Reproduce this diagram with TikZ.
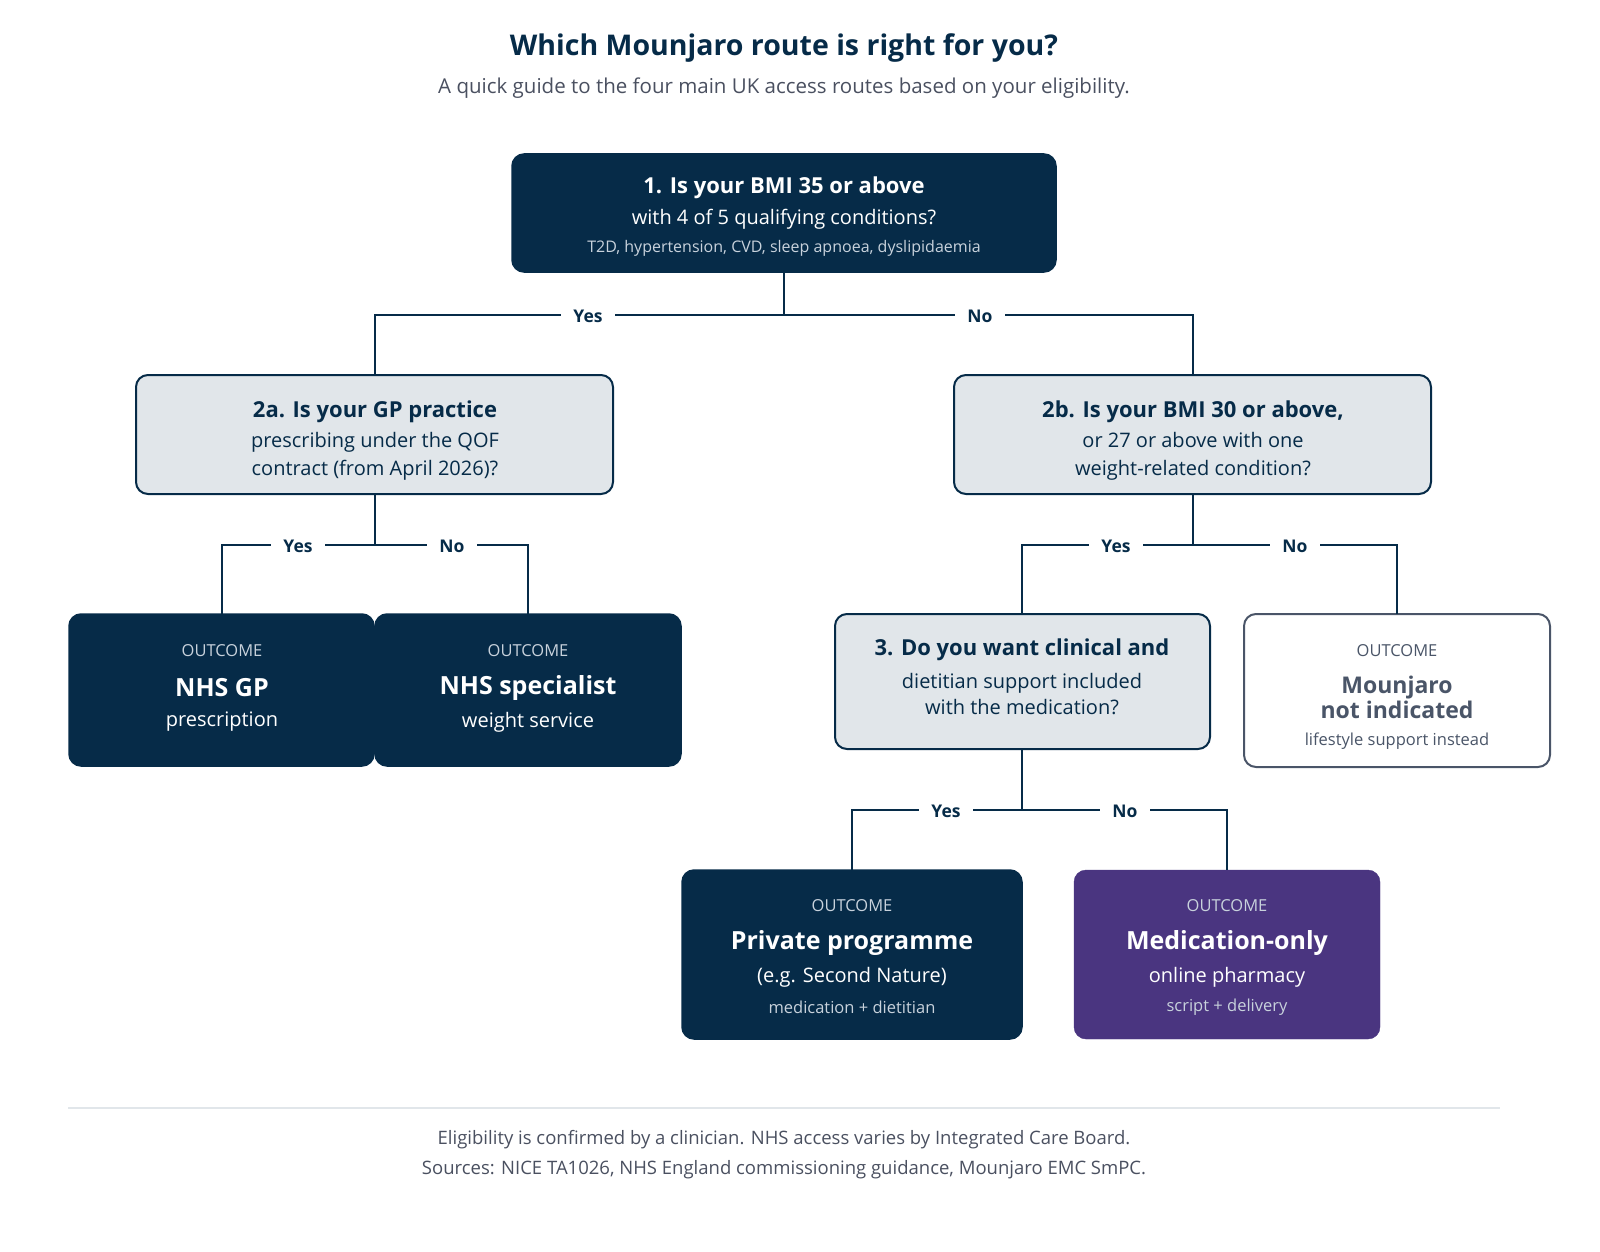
\documentclass[tikz,border=0pt]{standalone}
\usepackage{fontspec}
\setmainfont{Open Sans}
\begin{document}
\begin{tikzpicture}[x=1pt,y=-1pt,
  navy/.style={fill=nv,draw=nv,rounded corners=12pt,line width=1.5pt},
  light/.style={fill=lg,draw=nv,rounded corners=12pt,line width=2pt},
  plain/.style={fill=white,draw=gb,rounded corners=12pt,line width=2pt},
  purp/.style={fill=pp,draw=pp,rounded corners=12pt},
  conn/.style={draw=nv,line width=2pt},
  lab/.style={fill=white,inner xsep=12pt,text=nv,font=\fontsize{17.5}{20}\selectfont\bfseries},
  t/.style={align=center,inner sep=0pt}]
\definecolor{nv}{HTML}{062B48}
\definecolor{lg}{HTML}{E1E6EA}
\definecolor{gb}{HTML}{4A5568}
\definecolor{pp}{HTML}{4A3580}
\definecolor{tx}{HTML}{4A5060}
\definecolor{sub}{HTML}{C8D2DC}
\useasboundingbox (0,0) rectangle (1600,1252);
\node[t,text=nv,font=\fontsize{28.5}{30}\selectfont\bfseries] (title) at (784,48) {Which Mounjaro route is right for you?};
\node[t,text=tx,font=\fontsize{20.5}{22}\selectfont] (subt) at (784,88) {A quick guide to the four main UK access routes based on your eligibility.};
% boxes
\draw[navy] (512,154) rectangle (1056,272);
\draw[light] (136,375) rectangle (613,494);
\draw[light] (954,375) rectangle (1431,494);
\draw[navy] (69,614) rectangle (374,766);
\draw[navy] (375,614) rectangle (681,766);
\draw[light] (835,614) rectangle (1210,749);
\draw[plain] (1244,614) rectangle (1550,767);
\draw[navy] (682,870) rectangle (1022,1039);
\draw[purp] (1074,870) rectangle (1380,1039);
% coordinates
\coordinate (q1b) at (784,272); \coordinate (q1m) at (784,315);
\coordinate (a2t) at (375,375); \coordinate (b2t) at (1193,375);
\coordinate (a2b) at (375,494); \coordinate (a2m) at (375,545);
\coordinate (gpt) at (222,614); \coordinate (spt) at (528,614);
\coordinate (b2b) at (1193,494); \coordinate (b2m) at (1193,545);
\coordinate (q3t) at (1022,614); \coordinate (nit) at (1397,614);
\coordinate (q3b) at (1022,749); \coordinate (q3m) at (1022,810);
\coordinate (prt) at (852,870); \coordinate (mot) at (1227,870);
\draw[conn] (q1b)--(q1m); \draw[conn] (a2t)|-(q1m)-|(b2t);
\draw[conn] (a2b)--(a2m); \draw[conn] (gpt)|-(a2m)-|(spt);
\draw[conn] (b2b)--(b2m); \draw[conn] (q3t)|-(b2m)-|(nit);
\draw[conn] (q3b)--(q3m); \draw[conn] (prt)|-(q3m)-|(mot);
\node[lab] (l1) at (588,316) {Yes}; \node[lab] (l2) at (980,316) {No};
\node[lab] (l3) at (298,546) {Yes}; \node[lab] (l4) at (452,546) {No};
\node[lab] (l5) at (1116,546) {Yes}; \node[lab] (l6) at (1295,546) {No};
\node[lab] (l7) at (946,811) {Yes}; \node[lab] (l8) at (1125,811) {No};
% texts
\node[t,text=white,font=\fontsize{22}{24}\selectfont\bfseries] (q1a) at (784,188) {1. Is your BMI 35 or above};
\node[t,text=white,font=\fontsize{20}{22}\selectfont] (q1c) at (784,219) {with 4 of 5 qualifying conditions?};
\node[t,text=sub,font=\fontsize{16}{18}\selectfont] (q1d) at (784,248) {T2D, hypertension, CVD, sleep apnoea, dyslipidaemia};
\node[t,text=nv,font=\fontsize{22}{24}\selectfont\bfseries] (a2a) at (375,412) {2a. Is your GP practice};
\node[t,text=nv,font=\fontsize{20}{28}\selectfont] (a2c) at (375,456) {prescribing under the QOF\\contract (from April 2026)?};
\node[t,text=nv,font=\fontsize{22}{24}\selectfont\bfseries] (b2a) at (1193,412) {2b. Is your BMI 30 or above,};
\node[t,text=nv,font=\fontsize{20}{28}\selectfont] (b2c) at (1193,456) {or 27 or above with one\\weight-related condition?};
\node[t,text=nv,font=\fontsize{22}{24}\selectfont\bfseries] (q3a) at (1022,650) {3. Do you want clinical and};
\node[t,text=nv,font=\fontsize{20}{26}\selectfont] (q3c) at (1022,694) {dietitian support included\\with the medication?};
\foreach \x/\y/\c/\n in {222/651/sub/o1,528/651/sub/o2,1397/651/gb/o3,852/906/sub/o4,1227/906/sub/o5}
  \node[t,text=\c,font=\fontsize{16.5}{18}\selectfont] (\n) at (\x,\y) {OUTCOME};
\node[t,text=white,font=\fontsize{25}{26}\selectfont\bfseries] (gpa) at (222,688) {NHS GP};
\node[t,text=white,font=\fontsize{20}{22}\selectfont] (gpb) at (222,722) {prescription};
\node[t,text=white,font=\fontsize{25}{26}\selectfont\bfseries] (spa) at (528,688) {NHS specialist};
\node[t,text=white,font=\fontsize{20}{22}\selectfont] (spb) at (528,722) {weight service};
\node[t,text=gb,font=\fontsize{23}{25}\selectfont\bfseries] (nia) at (1397,697) {Mounjaro\\not indicated};
\node[t,text=gb,font=\fontsize{16.5}{18}\selectfont] (nib) at (1397,741) {lifestyle support instead};
\node[t,text=white,font=\fontsize{25}{26}\selectfont\bfseries] (pra) at (852,943) {Private programme};
\node[t,text=white,font=\fontsize{20}{22}\selectfont] (prb) at (852,977) {(e.g. Second Nature)};
\node[t,text=sub,font=\fontsize{16.5}{18}\selectfont] (prc) at (852,1007) {medication + dietitian};
\node[t,text=white,font=\fontsize{25}{26}\selectfont\bfseries] (moa) at (1227,943) {Medication-only};
\node[t,text=white,font=\fontsize{20}{22}\selectfont] (mob) at (1227,977) {online pharmacy};
\node[t,text=sub,font=\fontsize{16.5}{18}\selectfont] (moc) at (1227,1007) {script + delivery};
\draw[draw=lg,line width=1.2pt] (68,1108)--(1500,1108);
\node[t,text=tx,font=\fontsize{18.5}{20}\selectfont] (f1) at (784,1140) {Eligibility is confirmed by a clinician. NHS access varies by Integrated Care Board.};
\node[t,text=tx,font=\fontsize{18.5}{20}\selectfont] (f2) at (784,1170) {Sources: NICE TA1026, NHS England commissioning guidance, Mounjaro EMC SmPC.};
\end{tikzpicture}
\end{document}
